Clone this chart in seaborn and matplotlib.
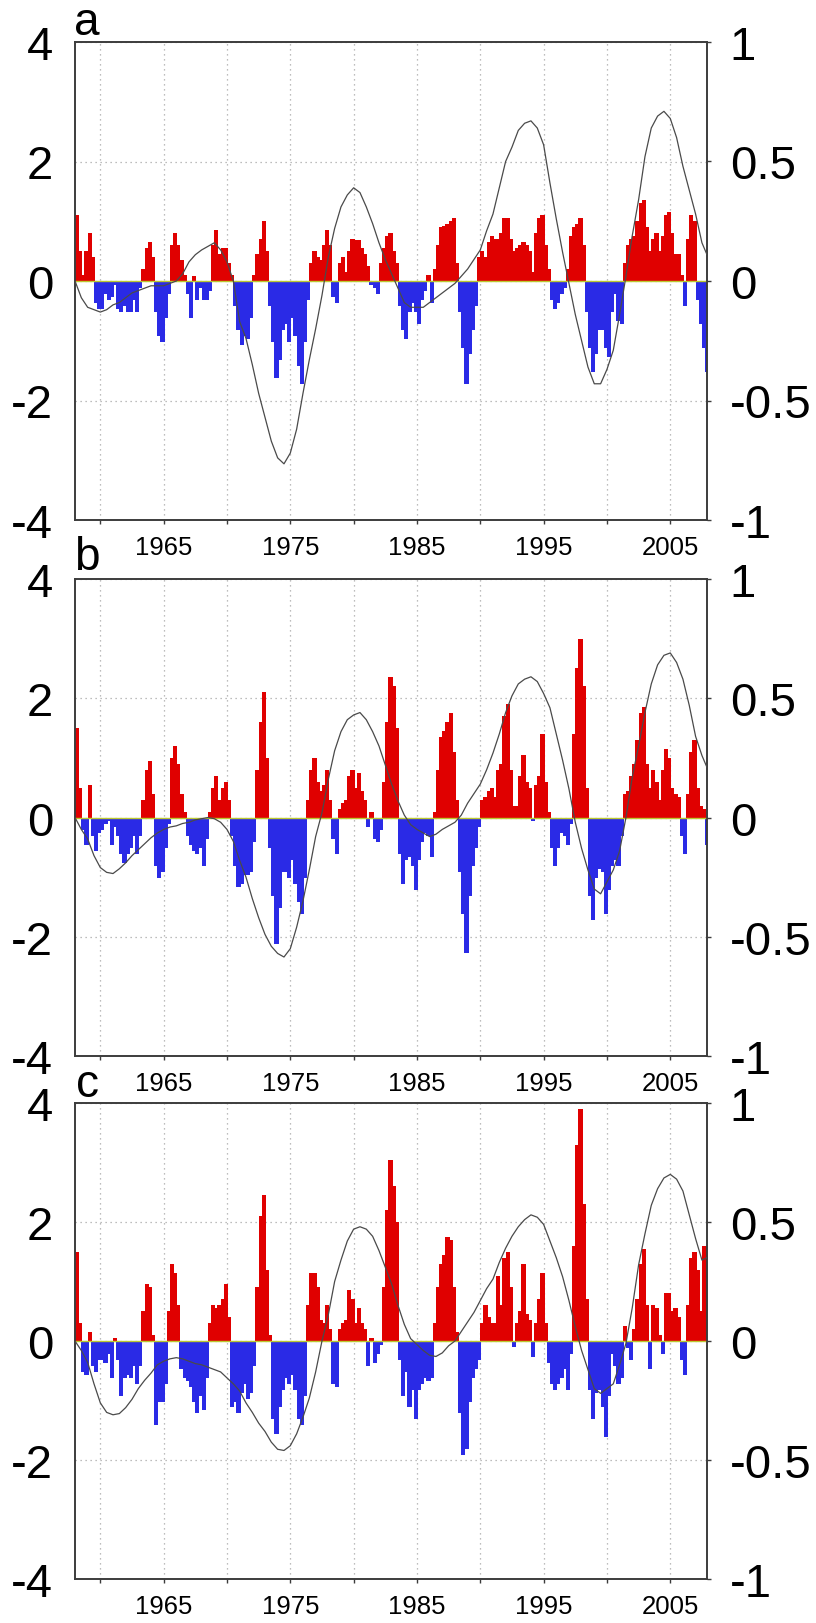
import numpy as np
import pandas as pd
import matplotlib.pyplot as plt
import seaborn as sns
from matplotlib.transforms import ScaledTranslation

sns.set_style("white")
plt.rcParams['font.family'] = ['Liberation Sans', 'DejaVu Sans']
plt.rcParams['text.color'] = 'black'

# quarterly index values (bars), 1958.0 .. 2007.75, four per year
idx_a = [
    1.1, 0.5, 0.1, 0.5,   0.8, 0.4, -0.35, -0.45,   -0.45, -0.2, -0.3, -0.25,
    -0.05, -0.45, -0.5, -0.4,   -0.5, -0.5, -0.3, -0.5,   -0.1, 0.2, 0.55, 0.65,
    0.4, -0.5, -0.9, -1.0,   -0.6, -0.2, 0.6, 0.8,   0.6, 0.35, 0.1, -0.2,
    -0.6, 0.08, -0.3, -0.1,   -0.3, -0.3, -0.15, 0.6,   0.85, 0.45, 0.55, 0.55,
    0.3, 0.1, -0.4, -0.8,   -1.05, -0.9, -0.95, -0.6,   0.1, 0.45, 0.7, 1.0,
    0.5, -0.4, -1.0, -1.6,   -1.3, -0.8, -0.7, -1.0,   -0.6, -0.9, -1.4, -1.7,
    -1.0, -0.3, 0.3, 0.5,   0.4, 0.35, 0.6, 0.85,   0.6, -0.25, -0.35, 0.3,
    0.4, 0.15, 0.5, 0.7,   0.68, 0.68, 0.55, 0.45,   0.25, -0.05, -0.1, -0.2,
    0.3, 0.55, 0.75, 0.8,   0.5, 0.3, -0.4, -0.8,   -0.95, -0.5, -0.35, -0.5,
    -0.7, -0.3, -0.15, 0.1,   -0.35, 0.2, 0.6, 0.9,   0.92, 0.95, 1.0, 1.05,
    0.3, -0.5, -1.1, -1.7,   -1.2, -0.8, -0.4, 0.4,   0.5, 0.4, 0.65, 0.75,
    0.7, 0.7, 0.8, 1.05,   1.05, 0.7, 0.5, 0.55,   0.6, 0.65, 0.6, 0.5,
    0.15, 0.8, 1.05, 1.1,   0.6, 0.2, -0.3, -0.45,   -0.35, -0.2, -0.1, 0.2,
    0.75, 0.9, 0.95, 1.05,   0.6, -0.5, -1.1, -1.5,   -1.2, -0.8, -0.8, -1.1,
    -1.25, -0.5, -0.2, -0.65,   -0.7, 0.3, 0.6, 0.7,   0.75, 1.0, 1.3, 1.35,
    0.9, 0.5, 0.7, 0.8,   0.5, 0.75, 1.1, 1.15,   0.8, 0.45, 0.45, 0.1,
    -0.4, 0.7, 1.1, 1.0,   -0.3, -0.7, -1.1, -1.5,
]
idx_b = [
    1.5, 0.5, -0.2, -0.45,   0.55, -0.3, -0.55, -0.25,   -0.2, -0.1, -0.05, -0.45,
    -0.15, -0.3, -0.6, -0.75,   -0.6, -0.5, -0.3, -0.6,   -0.3, 0.3, 0.8, 0.95,
    0.4, -0.8, -1.0, -0.9,   -0.5, -0.1, 1.0, 1.2,   0.9, 0.4, 0.1, -0.3,
    -0.45, -0.55, -0.6, -0.5,   -0.8, -0.35, 0.1, 0.5,   0.7, 0.3, 0.5, 0.6,
    0.3, -0.3, -0.8, -1.15,   -1.1, -0.95, -0.95, -0.9,   -0.4, 0.8, 1.6, 2.1,
    1.0, -0.5, -1.3, -2.1,   -1.5, -0.9, -0.9, -1.0,   -0.7, -1.1, -1.4, -1.6,
    -1.0, 0.3, 0.8, 1.0,   0.6, 0.45, 0.55, 0.8,   0.3, -0.35, -0.6, 0.15,
    0.25, 0.3, 0.7, 0.8,   0.5, 0.75, 0.45, 0.3,   -0.15, 0.1, -0.35, -0.4,
    -0.2, 0.6, 1.6, 2.35,   2.2, 1.5, -0.6, -1.1,   -0.7, -0.65, -0.8, -1.2,
    -0.7, -0.4, -0.25, -0.3,   -0.65, 0.1, 0.8, 1.35,   1.45, 1.6, 1.75, 1.1,
    0.3, -0.9, -1.6, -2.25,   -1.3, -0.8, -0.5, -0.15,   0.3, 0.35, 0.45, 0.5,
    0.35, 0.8, 0.9, 1.7,   1.9, 0.8, 0.2, 0.2,   0.7, 1.05, 0.6, 0.5,
    -0.05, 0.55, 0.7, 1.4,   0.6, 0.1, -0.5, -0.8,   -0.5, -0.25, -0.3, -0.45,
    -0.1, 1.4, 2.5, 3.0,   2.2, 0.5, -1.3, -1.7,   -1.0, -0.85, -0.9, -1.6,
    -1.2, -0.8, -0.7, -0.8,   -0.3, 0.4, 0.45, 0.7,   0.9, 1.3, 1.75, 1.85,
    0.9, 0.5, 0.8, 0.6,   0.3, 0.8, 1.15, 1.0,   0.5, 0.4, 0.35, -0.3,
    -0.6, 0.4, 1.1, 1.3,   0.5, 0.2, 0.15, -0.45,
]
idx_c = [
    1.5, 0.3, -0.5, -0.55,   0.15, -0.4, -0.5, -0.3,   -0.3, -0.35, -0.2, -0.6,
    0.05, -0.3, -0.9, -0.6,   -0.55, -0.6, -0.4, -0.7,   -0.4, 0.5, 0.95, 0.9,
    0.1, -1.4, -1.0, -1.0,   -0.7, 0.5, 1.3, 1.15,   0.6, -0.45, -0.6, -0.65,
    -0.75, -1.0, -1.2, -0.9,   -1.15, -0.6, 0.3, 0.6,   0.55, 0.6, 0.7, 0.95,
    0.4, -1.1, -1.0, -1.2,   -0.85, -0.7, -0.95, -0.85,   -0.4, 0.9, 2.1, 2.45,
    1.2, 0.1, -1.3, -1.55,   -1.1, -0.8, -0.6, -0.7,   -0.55, -0.8, -1.3, -1.4,
    -0.9, 0.6, 1.15, 1.15,   0.9, 0.35, 0.3, 0.6,   0.2, -0.7, -0.75, 0.2,
    0.3, 0.35, 0.85, 0.7,   0.3, 0.55, 0.3, 0.2,   -0.4, 0.05, -0.35, -0.2,
    -0.05, 0.9, 2.2, 3.05,   2.6, 2.0, -0.3, -0.9,   -0.5, -1.1, -0.8, -1.3,
    -0.8, -0.7, -0.6, -0.65,   -0.6, 0.3, 0.9, 1.3,   1.45, 1.75, 1.7, 0.9,
    0.15, -1.2, -1.9, -1.8,   -1.0, -0.6, -0.45, -0.3,   0.3, 0.6, 0.4, 0.3,
    0.3, 1.1, 0.6, 1.4,   1.5, 0.9, -0.08, 0.3,   0.5, 1.3, 0.45, 0.35,
    -0.25, 0.3, 0.7, 1.15,   0.3, -0.35, -0.7, -0.8,   -0.7, -0.6, -0.45, -0.8,
    -0.2, 1.6, 3.3, 3.9,   2.3, 0.7, -0.8, -1.3,   -0.85, -0.8, -1.1, -1.6,
    -0.9, -0.2, -0.4, -0.7,   -0.6, 0.25, -0.1, -0.3,   0.2, 0.7, 1.3, 1.55,
    0.6, -0.45, 0.6, 0.55,   0.1, -0.2, 0.8, 0.8,   0.5, 0.55, 0.4, -0.3,
    -0.55, 0.6, 1.4, 1.5,   1.2, 0.5, 1.6, 1.6,
]

# smoothed curve (right axis), half-yearly 1958.0 .. 2007.5, plus end point
line_a = [
    0.0, -0.07, -0.11, -0.12, -0.13, -0.12, -0.10, -0.09, -0.07, -0.05,
    -0.04, -0.03, -0.02, -0.02, -0.02, -0.01, 0.0, 0.03, 0.08, 0.11,
    0.13, 0.145, 0.16, 0.13, 0.08, 0.0, -0.17, -0.24, -0.35, -0.47,
    -0.57, -0.67, -0.74, -0.765, -0.72, -0.62, -0.47, -0.33, -0.2, -0.06,
    0.1, 0.22, 0.31, 0.36, 0.39, 0.37, 0.31, 0.24, 0.16, 0.09,
    0.03, -0.03, -0.09, -0.11, -0.11, -0.11, -0.09, -0.07, -0.05, -0.03,
    -0.01, 0.02, 0.05, 0.09, 0.13, 0.21, 0.28, 0.39, 0.5, 0.56,
    0.63, 0.66, 0.67, 0.64, 0.57, 0.41, 0.26, 0.12, -0.01, -0.14,
    -0.25, -0.36, -0.43, -0.43, -0.37, -0.29, -0.14, 0.02, 0.19, 0.34,
    0.52, 0.64, 0.69, 0.71, 0.68, 0.6, 0.48, 0.38, 0.28, 0.16,
    0.11,
]
line_b = [
    0.0, -0.05, -0.09, -0.16, -0.21, -0.23, -0.235, -0.215, -0.19, -0.16,
    -0.135, -0.11, -0.085, -0.065, -0.05, -0.04, -0.035, -0.025, -0.02, -0.01,
    -0.005, 0.0, -0.005, -0.02, -0.05, -0.1, -0.18, -0.25, -0.34, -0.42,
    -0.49, -0.54, -0.57, -0.585, -0.55, -0.46, -0.35, -0.22, -0.08, 0.02,
    0.16, 0.28, 0.36, 0.41, 0.43, 0.44, 0.41, 0.36, 0.3, 0.22,
    0.14, 0.07, 0.01, -0.03, -0.05, -0.065, -0.08, -0.07, -0.05, -0.035,
    -0.02, 0.01, 0.06, 0.1, 0.14, 0.2, 0.27, 0.35, 0.44, 0.51,
    0.56, 0.58, 0.59, 0.57, 0.52, 0.46, 0.35, 0.24, 0.12, -0.02,
    -0.13, -0.22, -0.3, -0.32, -0.27, -0.22, -0.14, 0.0, 0.17, 0.3,
    0.44, 0.56, 0.64, 0.68, 0.69, 0.65, 0.58, 0.47, 0.34, 0.26,
    0.21,
]
line_c = [
    0.0, -0.04, -0.09, -0.18, -0.26, -0.3, -0.31, -0.305, -0.28, -0.245,
    -0.2, -0.165, -0.135, -0.1, -0.085, -0.075, -0.07, -0.075, -0.085, -0.095,
    -0.1, -0.11, -0.12, -0.13, -0.155, -0.18, -0.21, -0.26, -0.3, -0.345,
    -0.38, -0.425, -0.455, -0.46, -0.44, -0.39, -0.32, -0.24, -0.13, 0.0,
    0.11, 0.25, 0.34, 0.42, 0.47, 0.48, 0.47, 0.44, 0.38, 0.31,
    0.24, 0.15, 0.07, 0.01, -0.015, -0.04, -0.06, -0.065, -0.05, -0.02,
    0.0, 0.04, 0.08, 0.12, 0.17, 0.22, 0.26, 0.33, 0.39, 0.44,
    0.48, 0.51, 0.53, 0.52, 0.49, 0.42, 0.35, 0.27, 0.17, 0.06,
    -0.04, -0.12, -0.2, -0.22, -0.2, -0.18, -0.1, -0.01, 0.14, 0.32,
    0.45, 0.57, 0.64, 0.685, 0.7, 0.68, 0.63, 0.53, 0.43, 0.34,
    0.35,
]

quarters = 1958 + np.arange(200) * 0.25
half_years = list(1958 + np.arange(100) * 0.5) + [2007.9]

panels = ["a", "b", "c"]
bars = [idx_a, idx_b, idx_c]
lines = [line_a, line_b, line_c]

# layout in pixels of the 816x1624 figure
W, H = 816, 1624
boxes = [(43, 521), (580, 1057), (1104, 1580)]
letter_base = [35, 570, 1097]
label_shift = [-7, -2, -1]

RED = "#e00000"
BLUE = "#2a2ae6"
GRID = "#a8a8a8"
SPINE = "#3c3c3c"

fig = plt.figure(figsize=(W / 100, H / 100), dpi=100)

for i, name in enumerate(panels):
    top, bot = boxes[i]
    ax = fig.add_axes([75 / W, 1 - bot / H, (707 - 75) / W, (bot - top) / H])
    df = pd.DataFrame({"year": quarters, "value": bars[i]})
    colors = np.where(df["value"] > 0, RED, BLUE)
    ax.bar(df["year"], df["value"], width=0.25, align="edge",
           color=colors, edgecolor=colors, linewidth=0.4,
           antialiased=False, zorder=2)
    ax.axhline(0, color="#bcc830", lw=1.0, zorder=3)

    ax.set_xlim(1958, 2007.9)
    ax.set_ylim(-4, 4)
    ax.set_yticks([-4, -2, 0, 2, 4])
    ax.set_yticklabels(["-4", "-2", "0", "2", "4"], fontsize=34)
    xt = list(range(1960, 2006, 5))
    ax.set_xticks(xt)
    ax.set_xticklabels([str(y) if y % 10 == 5 else "" for y in xt], fontsize=18.5)
    off = ScaledTranslation(label_shift[i] / 100, 0, fig.dpi_scale_trans)
    for lab in ax.get_xticklabels():
        lab.set_transform(lab.get_transform() + off)

    ax.tick_params(axis="y", left=True, length=0, pad=15.8, labelcolor="black")
    ax.tick_params(axis="x", bottom=True, length=3, width=1, color=SPINE,
                   direction="out", pad=7.5, labelcolor="black")
    ax.set_axisbelow(True)
    ax.grid(True, ls=(0, (1, 3)), color=GRID, lw=0.9)
    ax.set_xlabel("")
    for s in ax.spines.values():
        s.set_color(SPINE)
        s.set_linewidth(1.2)

    ax2 = ax.twinx()
    sns.lineplot(x=half_years, y=lines[i], ax=ax2, color="#4a4a4a",
                 lw=0.9, legend=False, zorder=4)
    ax2.set_ylim(-1, 1)
    ax2.set_yticks([-1, -0.5, 0, 0.5, 1])
    ax2.set_yticklabels(["-1", "-0.5", "0", "0.5", "1"], fontsize=34)
    ax2.tick_params(axis="y", right=True, length=3, width=1, color=SPINE,
                    direction="out", pad=13.3, labelcolor="black")
    ax2.set_ylabel("")
    for s in ax2.spines.values():
        s.set_color(SPINE)
        s.set_linewidth(1.2)

    fig.text(87 / W, 1 - letter_base[i] / H, name, fontsize=33,
             ha="center", va="baseline", color="black")

plt.savefig("out.png", dpi=100)
